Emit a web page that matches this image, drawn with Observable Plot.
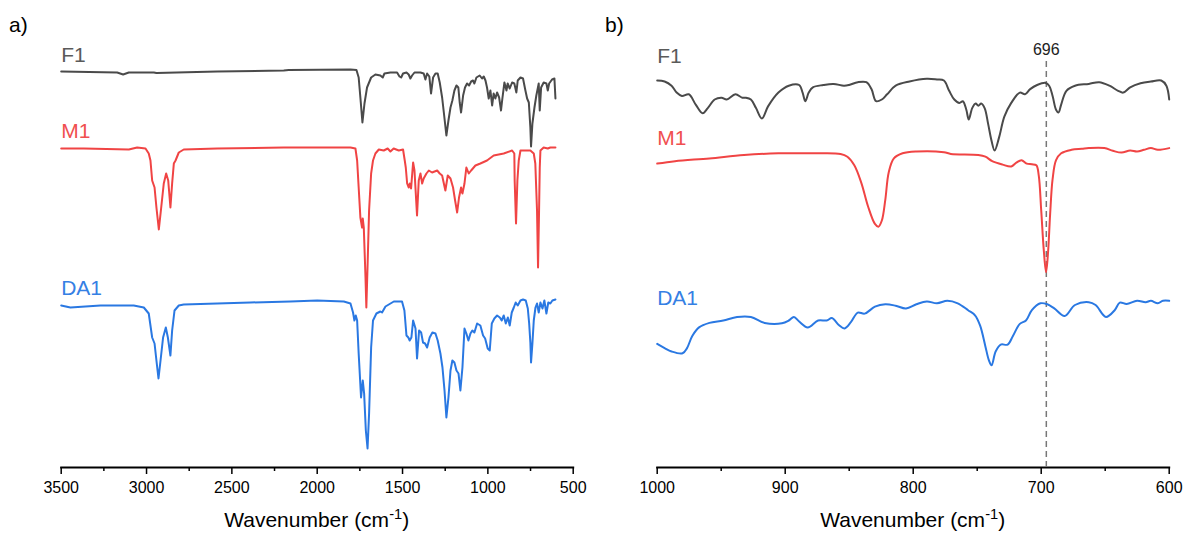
<!DOCTYPE html>
<html>
<head>
<meta charset="utf-8">
<script src="https://cdn.jsdelivr.net/npm/d3@7"></script>
<script src="https://cdn.jsdelivr.net/npm/@observablehq/plot@0.6"></script>
<style>
  html, body { margin: 0; padding: 0; background: #fff; }
  #wrap { position: relative; width: 1186px; height: 533px; font-family: "Liberation Sans", Arial, sans-serif; }
  .pl { position: absolute; top: 0; }
  .tag { position: absolute; font-size: 21px; color: #000; line-height: 26px; }
  .xt { position: absolute; top: 507px; width: 512px; text-align: center; font-size: 21px; line-height: 26px; color: #000; }
  .xt sup { font-size: 0.7em; vertical-align: 0.55em; line-height: 0; }
</style>
</head>
<body>
<div id="wrap">
  <div id="pa" class="pl" style="left:0px"></div>
  <div id="pb" class="pl" style="left:593px"></div>
  <div class="tag" style="left:9px;top:12px">a)</div>
  <div class="tag" style="left:605px;top:12px">b)</div>
  <div class="xt" style="left:60.7px">Wavenumber (cm<sup>-1</sup>)</div>
  <div class="xt" style="left:656.7px">Wavenumber (cm<sup>-1</sup>)</div>
</div>
<script>
// ---- data: [wavenumber (cm-1), offset transmittance (a.u.)] ----
const seriesNames = ["F1", "M1", "DA1"];

const f1Full = [[3500,396],[3172,395],[3137,393],[3104,395],[2957,395],[2942,394.5],[2586,396],[2196,397],[2167,397.5],[1805,398],[1770,397.5],[1757,390],[1747,370],[1735,345],[1723,364],[1708,380],[1684,390],[1659,393],[1630,392],[1616,390],[1606,394],[1571,395],[1532,395],[1518,391],[1508,390],[1497,394],[1477,395],[1464,393],[1454,389],[1444,392],[1430,395],[1395,395],[1376,394],[1366,388],[1356,394],[1343,391],[1333,374],[1321,390],[1307,394],[1294,394],[1282,385],[1268,370],[1258,355],[1243,332],[1231,347],[1219,360],[1208,367],[1196,377],[1184,382],[1173,380],[1165,365],[1157,355],[1145,372],[1134,380],[1122,384],[1110,382],[1098,386],[1087,387],[1079,384],[1067,390],[1048,392],[1034,389],[1024,391],[1014,387],[1005,380],[995,369],[985,377],[975,362],[966,374],[956,369],[946,375],[934,370],[923,357],[915,369],[903,385],[891,377],[884,384],[872,379],[858,385],[845,384],[833,375],[825,387],[809,390],[794,389],[780,377],[770,369],[760,365],[751,340],[747,321],[739,344],[727,360],[716,372],[702,384],[696,357],[688,380],[673,385],[657,384],[649,377],[641,384],[624,388],[610,389],[604,369]];

const m1Full = [[3500,319],[3367,319],[3104,318],[3055,320],[3006,319],[2987,314],[2977,307],[2967,287],[2953,280],[2942,260],[2928,238],[2914,260],[2899,284],[2885,294],[2873,287],[2860,260],[2850,284],[2840,304],[2830,307],[2811,315],[2782,318],[2586,319],[2196,320],[1805,320],[1776,319],[1766,307],[1757,280],[1747,250],[1737,240],[1733,249],[1727,240],[1717,190],[1712,160],[1704,207],[1696,257],[1684,294],[1673,307],[1659,314],[1639,318],[1610,317],[1587,319],[1571,316],[1552,319],[1522,317],[1497,318],[1487,307],[1481,300],[1473,284],[1464,280],[1458,284],[1450,279],[1438,305],[1430,297],[1415,252],[1405,287],[1395,294],[1385,284],[1376,289],[1360,294],[1346,297],[1327,295],[1297,297],[1282,294],[1268,292],[1249,277],[1235,292],[1219,289],[1204,280],[1192,267],[1180,255],[1169,270],[1157,280],[1149,274],[1137,284],[1126,300],[1112,294],[1098,297],[1073,302],[1044,304],[1005,307],[966,312],[907,314],[858,317],[845,314],[843,287],[835,244],[827,287],[819,307],[809,317],[751,317],[731,314],[722,304],[712,257],[706,200],[700,257],[696,300],[692,317],[673,320],[649,319],[634,320],[604,320]];

const da1Full = [[3500,162],[3446,160],[3270,162],[3075,162],[3016,160],[2987,154],[2967,130],[2953,124],[2942,107],[2930,89],[2918,107],[2903,130],[2887,140],[2875,130],[2860,112],[2850,137],[2836,157],[2811,162],[2782,163],[2391,165],[2157,166],[2000,167],[1844,166],[1805,164],[1790,155],[1782,147],[1774,152],[1766,147],[1757,114],[1743,70],[1733,87],[1725,74],[1715,37],[1705,19],[1696,54],[1684,120],[1673,147],[1653,154],[1630,156],[1620,155],[1600,161],[1551,166],[1503,166],[1489,157],[1477,132],[1466,130],[1458,127],[1448,130],[1438,147],[1424,139],[1415,109],[1403,137],[1391,135],[1380,125],[1368,124],[1356,120],[1341,130],[1325,135],[1307,134],[1294,127],[1278,114],[1266,100],[1254,77],[1243,50],[1231,70],[1219,97],[1208,107],[1196,105],[1184,97],[1172,94],[1161,77],[1149,100],[1137,139],[1126,134],[1114,127],[1102,134],[1091,137],[1079,135],[1063,144],[1044,142],[1028,132],[1016,129],[1001,119],[989,117],[977,144],[962,149],[946,152],[930,150],[919,147],[907,152],[895,144],[883,150],[872,142],[860,155],[848,160],[837,165],[825,162],[809,167],[794,168],[778,167],[766,159],[758,144],[751,125],[747,105],[739,124],[731,147],[721,160],[712,164],[702,155],[692,165],[680,159],[669,167],[657,154],[646,165],[634,164],[622,167],[604,168]];

const f1Zoom = [[1000,387],[994.2,386],[988.8,381.8],[984.8,374.9],[980.7,371.5],[975.3,373.2],[969.9,362.9],[964.5,354.2],[960.5,359.4],[955.1,368],[949.7,369.8],[945.7,368],[938.9,373.2],[933.5,369.8],[930.9,369.8],[926.8,368],[922.8,359.4],[918.2,349.1],[913.4,361.1],[905.3,374.9],[897.2,381.8],[889.1,382.5],[886.4,374.9],[884.3,366.3],[881.6,374.9],[878.4,380.1],[870.3,382.5],[862.2,383.6],[854.1,381.8],[850.1,382.5],[843.3,385.3],[836.6,385.3],[832.6,378.4],[829,366.3],[824.5,368],[820.4,373.2],[813.7,381.8],[802.9,386],[789.4,388.7],[781.4,388],[776,387],[771.9,376.7],[767.9,368],[763.9,364.6],[761.2,366.3],[758.5,357.7],[756.6,348],[753.9,359.4],[751.2,363.9],[749.1,361.8],[746.9,363.9],[744.2,359.4],[741.5,343.9],[738.8,326.7],[736.4,317],[732.9,330.1],[728.8,350.8],[723.4,364.6],[716.7,374.9],[712.7,373.2],[708.6,378.4],[703.2,382.5],[696.5,384.6],[693.8,381.8],[691.1,371.5],[688.4,357.7],[686.5,354.9],[684.4,362.9],[680.3,376.7],[673.6,381.8],[662.8,383.6],[654.7,385.3],[646.7,381.8],[639.9,376.7],[635.9,374.9],[630.5,380.1],[622.4,384.2],[614.3,386],[606.2,387],[602.2,381.8],[600,368]];

const m1Zoom = [[1000,303.9],[986.1,306.3],[959.2,309.1],[932.2,312.5],[905.3,314.2],[878.4,314.2],[856.8,313.6],[851.4,310.8],[846,302.2],[840.6,284.9],[835.2,260.8],[829.9,243.6],[827.2,240.8],[824.5,247],[821.8,267.7],[819.1,295.3],[815.1,309.1],[808.3,314.2],[797.5,316],[776,315.3],[770.6,313.6],[749.1,312.5],[743.6,310.8],[738.3,306.3],[730.2,302.9],[723.4,301.1],[719.4,304.9],[715.4,307.3],[711.3,303.9],[707.3,303.2],[703.8,302.2],[701.9,291.8],[700,257.4],[697.9,216],[696.2,195.3],[694.6,216],[693,253.9],[691.1,288.4],[688.4,307.3],[684.4,314.2],[676.3,317.7],[668.2,318.7],[662.8,319.4],[650.7,319.4],[644,316.7],[637.2,314.9],[630.5,317],[625.1,316],[619.7,317.7],[614.3,319.4],[608.9,317.7],[600,319.4]];

const da1Zoom = [[1000,123.6],[994.2,119.4],[988.8,116],[980.2,114.2],[976.7,119.4],[972.6,131.5],[967.3,140.1],[959.2,144.6],[948.4,147],[937.6,150.5],[926.8,150.5],[916.1,144.6],[902.6,144.2],[897.2,147],[893.2,150.5],[889.1,146],[882.4,140.1],[874.3,147],[867.6,147],[863.5,149.4],[858.1,142.5],[853.6,139.1],[848.7,145.3],[843.3,154.9],[837.9,153.9],[829.9,160.8],[821.8,163.2],[813.7,161.8],[805.6,159.1],[797.5,163.2],[789.4,166],[781.4,164.2],[773.3,166.7],[765.2,164.2],[757.1,157.3],[751.7,152.2],[747.7,141.8],[743.6,121.1],[740.9,107.4],[738.8,102.2],[735.6,116],[731.6,122.9],[726.2,122.9],[722.1,131.5],[716.7,143.6],[711.9,147],[707.3,157.3],[700.6,164.2],[695.2,163.2],[689.8,159.1],[681.7,151.5],[673.6,162.5],[662.8,165.3],[657.5,162.5],[649.4,150.5],[642.6,157.3],[638.6,164.9],[633.2,163.6],[625.1,166.7],[618.4,165.3],[614.3,166.7],[608.9,164.2],[604.9,166.7],[600,166.7]];

const markerLines = [696];

const ticksA = [3500, 3000, 2500, 2000, 1500, 1000, 500];
const minorA = [3250, 2750, 2250, 1750, 1250, 750];
const ticksB = [1000, 900, 800, 700, 600];
const minorB = [950, 850, 750, 650];

// ---- styling ----
const colors = { F1: "#4a4a4a", M1: "#f04444", DA1: "#2a78e2" };
const labelColors = { F1: "#5a5a5a", M1: "#f05050", DA1: "#3580e4" };

function panel({ data, domain, ticks, minor, width, ml, mr, labelDy, curve, markers }) {
  const marks = [
    Plot.frame({ anchor: "bottom", strokeWidth: 2, stroke: "#000" }),
    Plot.axisX({ ticks, tickSize: 7, tickPadding: 7, strokeWidth: 1.5, tickFormat: d => String(d), label: null, fill: "#000", fontSize: 16 }),
    Plot.axisX({ ticks: minor, tickSize: 4, strokeWidth: 1.5, tickFormat: () => "", label: null })
  ];
  if (markers) {
    marks.push(Plot.ruleX(markers, { x: d => d, y1: 0, y2: 410, stroke: "#777", strokeWidth: 1.5, strokeDasharray: "6,4" }));
    marks.push(Plot.text(markers, { x: d => d, text: d => String(d), frameAnchor: "top", dy: 6, fontSize: 16, fill: "#222" }));
  }
  seriesNames.forEach((name, i) => {
    marks.push(Plot.line(data[i], { x: d => d[0], y: d => d[1], stroke: colors[name], strokeWidth: 2, curve }));
    marks.push(Plot.text([name], {
      x: () => domain[0], y: () => data[i][0][1], text: d => d,
      textAnchor: "start", dy: labelDy[i], fontSize: 21, fill: labelColors[name]
    }));
  });
  return Plot.plot({
    width, height: 500,
    marginLeft: ml, marginRight: mr, marginTop: 37, marginBottom: 33,
    x: { domain, axis: null },
    y: { domain: [0, 430], axis: null },
    style: { fontFamily: "Liberation Sans, Arial, sans-serif", fontSize: "16px", color: "#000", overflow: "visible", background: "transparent" },
    marks
  });
}

document.getElementById("pa").appendChild(panel({
  data: [f1Full, m1Full, da1Full], domain: [3500, 500], ticks: ticksA, minor: minorA,
  width: 593, ml: 60.7, mr: 20.3, labelDy: [-16, -17, -17], curve: "linear"
}));
document.getElementById("pb").appendChild(panel({
  data: [f1Zoom, m1Zoom, da1Zoom], domain: [1000, 600], ticks: ticksB, minor: minorB,
  width: 593, ml: 63.7, mr: 17.3, labelDy: [-24, -25, -46], curve: "catmull-rom", markers: markerLines
}));
</script>
</body>
</html>
